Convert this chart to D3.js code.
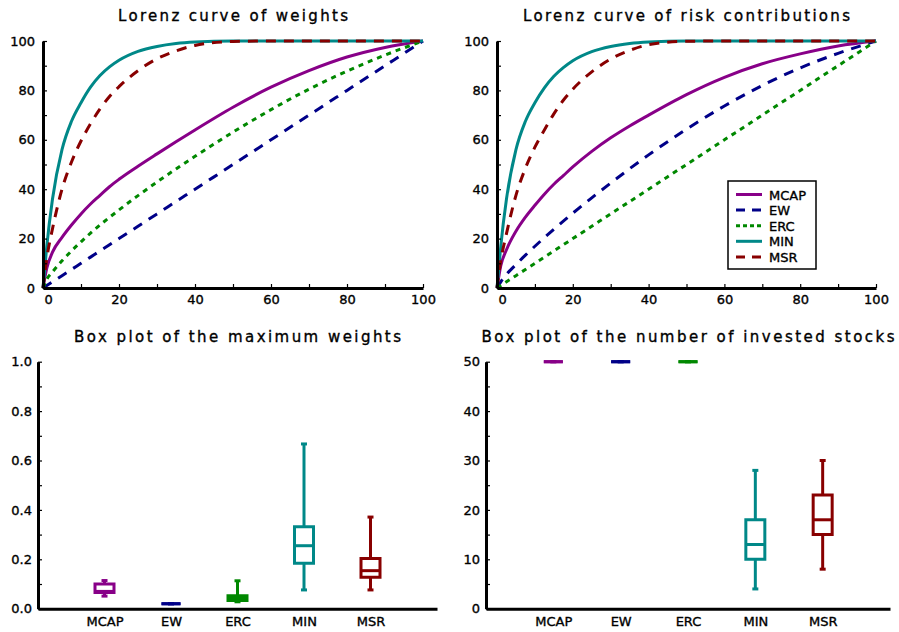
<!DOCTYPE html>
<html>
<head>
<meta charset="utf-8">
<script src="https://cdn.jsdelivr.net/npm/d3@7/dist/d3.min.js"></script>
<style>
    body{margin:0;background:#fff;}
    svg text{font-family:"DejaVu Sans",sans-serif;fill:#000;stroke:#000;stroke-width:0.35px;}
</style>
</head>
<body>
<svg id="chart" width="899" height="632"></svg>
<script>
/*global d3: false */

//====================================
//Data
var seriesNames = ["MCAP", "EW", "ERC", "MIN", "MSR"];

//x grid (% of stocks) shared by every lorenz curve
var lorenzX = [0, 1, 2.5, 5, 7.5, 10, 12.5, 15, 17.5, 20, 25, 30, 35, 40, 50, 60, 70, 80, 90, 100];

//Lorenz curve of weights
var wMCAP = [0, 8, 14.5, 20.5, 25.5, 30, 34, 37.5, 41, 44, 49.3, 54.3, 59.2, 64, 73.2, 81.3, 88, 93.5, 97.4, 100];
var wEW   = [0, 1, 2.5, 5, 7.5, 10, 12.5, 15, 17.5, 20, 25, 30, 35, 40, 50, 60, 70, 80, 90, 100];
var wERC  = [0, 3.5, 6.5, 11, 15, 18.7, 22.2, 25.5, 28.6, 31.6, 37.4, 42.9, 48.2, 53.3, 63.1, 72.2, 80.5, 87.8, 94.3, 100];
var wMIN  = [0, 17, 36, 56, 67.5, 75, 81.3, 86, 89.5, 92.2, 95.8, 97.8, 99, 99.6, 100, 100, 100, 100, 100, 100];
var wMSR  = [0, 12, 24, 40, 51, 59.5, 66.5, 72.5, 77.5, 81.5, 88, 92.8, 96, 98.2, 99.8, 100, 100, 100, 100, 100];

//Lorenz curve of risk contributions
var rcMCAP = [0, 9, 15.5, 23, 28.7, 33.5, 38, 42, 45.5, 49, 55.3, 60.8, 65.6, 70, 78.3, 85.3, 90.8, 94.8, 98, 100];
var rcEW   = [0, 2.5, 5.5, 9.5, 13.3, 16.9, 20.4, 23.8, 27.1, 30.3, 36.5, 42.5, 48.3, 53.9, 64.3, 73.7, 82, 89.1, 95, 100];
var rcERC  = [0, 1, 2.5, 5, 7.5, 10, 12.5, 15, 17.5, 20, 25, 30, 35, 40, 50, 60, 70, 80, 90, 100];
var rcMIN  = [0, 17, 36, 56, 67.5, 75, 81, 85.7, 89.2, 92, 95.7, 97.8, 99, 99.6, 100, 100, 100, 100, 100, 100];
var rcMSR  = [0, 11, 22, 37.5, 48.5, 57, 64, 70.5, 76, 80.5, 87.5, 92.7, 96.2, 98.5, 99.9, 100, 100, 100, 100, 100];

//Box plot of the maximum weights (per series: MCAP, EW, ERC, MIN, MSR)
var mwMin    = [0.051, 0.02, 0.028, 0.076, 0.076];
var mwQ1     = [0.066, 0.02, 0.033, 0.184, 0.127];
var mwMedian = [0.070, 0.02, 0.043, 0.255, 0.154];
var mwQ3     = [0.100, 0.02, 0.052, 0.332, 0.203];
var mwMax    = [0.114, 0.02, 0.113, 0.667, 0.371];

//Box plot of the number of invested stocks
var nsMin    = [50, 50, 50, 4, 8];
var nsQ1     = [50, 50, 50, 10, 15];
var nsMedian = [50, 50, 50, 13, 18];
var nsQ3     = [50, 50, 50, 18, 23];
var nsMax    = [50, 50, 50, 28, 30];

//tick labels
var lorenzTicks = [0, 10, 20, 30, 40, 50, 60, 70, 80, 90, 100];
var weightTicks = [0, 0.1, 0.2, 0.3, 0.4, 0.5, 0.6, 0.7, 0.8, 0.9, 1.0];
var stockTicks  = [0, 5, 10, 15, 20, 25, 30, 35, 40, 45, 50];

(function(){
    "use strict";

    //styles of the five series
    var colors = ["#880088", "#000088", "#008800", "#008888", "#880000"];
    var dashes = [null, "10,8", "5,5", null, "10,8"];
    var legendDashes = [null, "9,7", "4,3", null, "9,7"];

    var svg = d3.select("#chart");

    //====================================
    //common helpers
    function styleAxis(g, size){
        g.selectAll("text")
            .style("font-family", "'DejaVu Sans', sans-serif")
            .style("font-size", size + "px");
        g.select(".domain").attr("stroke-width", 3).attr("stroke", "#000");
        g.selectAll(".tick line").attr("stroke-width", 1.2).attr("stroke", "#000");
    }

    function drawTitle(text, cx, y, width){
        svg.append("text")
            .attr("x", cx)
            .attr("y", y)
            .attr("text-anchor", "middle")
            .attr("textLength", width)
            .attr("lengthAdjust", "spacing")
            .style("font-size", "15px")
            .text(text);
    }

    //====================================
    //Lorenz panel
    function lorenzPanel(x0, x1, title, titleWidth, values, withLegend){
        var x = d3.scaleLinear().domain([0, 100]).range([x0, x1]);
        var y = d3.scaleLinear().domain([0, 100]).range([288, 41]);
        var g = svg.append("g");

        drawTitle(title, (x0 + x1) / 2, 21, titleWidth);

        var line = d3.line()
            .x(function(d){ return x(d[0]); })
            .y(function(d){ return y(d[1]); })
            .curve(d3.curveMonotoneX);

        values.forEach(function(vals, i){
            var pts = lorenzX.map(function(v, k){ return [v, vals[k]]; });
            g.append("path")
                .datum(pts)
                .attr("d", line)
                .attr("fill", "none")
                .attr("stroke", colors[i])
                .attr("stroke-width", 3)
                .attr("stroke-dasharray", dashes[i]);
        });

        //axes, ticks every 10, labels every 20
        var fmt = function(d){ return d % 20 === 0 ? d : ""; };
        var xAxis = g.append("g")
            .attr("transform", "translate(0," + y(0) + ")")
            .call(d3.axisBottom(x).tickValues(lorenzTicks).tickFormat(fmt)
                .tickSizeInner(-4).tickSizeOuter(0).tickPadding(7));
        styleAxis(xAxis, 13);
        //first label sits right of the origin
        xAxis.selectAll(".tick text").filter(function(d){ return d === 0; })
            .attr("text-anchor", "start").attr("dx", 1);

        var yAxis = g.append("g")
            .attr("transform", "translate(" + x(0) + ",0)")
            .call(d3.axisLeft(y).tickValues(lorenzTicks).tickFormat(fmt)
                .tickSizeInner(-4).tickSizeOuter(0).tickPadding(8));
        styleAxis(yAxis, 13);

        if(withLegend){
            var lg = g.append("g").attr("transform", "translate(728,181)");
            lg.append("rect")
                .attr("width", 88)
                .attr("height", 88)
                .attr("fill", "#fff")
                .attr("stroke", "#000")
                .attr("stroke-width", 1.5);
            seriesNames.forEach(function(name, i){
                var ly = 13.5 + i * 15.6;
                lg.append("line")
                    .attr("x1", 8).attr("x2", 34)
                    .attr("y1", ly).attr("y2", ly)
                    .attr("stroke", colors[i])
                    .attr("stroke-width", 3)
                    .attr("stroke-dasharray", legendDashes[i]);
                lg.append("text")
                    .attr("x", 41)
                    .attr("y", ly + 5)
                    .style("font-size", "13px")
                    .text(name);
            });
        }
    }

    //====================================
    //Box plot panel
    function boxPanel(x0, x1, title, titleWidth, yMax, ticks, tickFmt, stats){
        var x = d3.scaleLinear().domain([0, 6]).range([x0, x1]);
        var y = d3.scaleLinear().domain([0, yMax]).range([608.7, 361.7]);
        var g = svg.append("g");
        var hw = 9.5;
        var cap = 3;

        drawTitle(title, (x0 + x1) / 2, 341.5, titleWidth);

        seriesNames.forEach(function(name, i){
            var cx = x(i + 1);
            var c = colors[i];
            var bg = g.append("g")
                .attr("fill", "none")
                .attr("stroke", c)
                .attr("stroke-width", 3);
            //whisker
            bg.append("line")
                .attr("x1", cx).attr("x2", cx)
                .attr("y1", y(stats.min[i])).attr("y2", y(stats.max[i]));
            //caps
            [stats.min[i], stats.max[i]].forEach(function(v){
                bg.append("line")
                    .attr("x1", cx - cap).attr("x2", cx + cap)
                    .attr("y1", y(v)).attr("y2", y(v));
            });
            //box
            bg.append("path")
                .attr("fill", "#fff")
                .attr("d", "M" + (cx - hw) + "," + y(stats.q3[i]) +
                    "H" + (cx + hw) + "V" + y(stats.q1[i]) +
                    "H" + (cx - hw) + "Z");
            //median
            bg.append("line")
                .attr("x1", cx - hw).attr("x2", cx + hw)
                .attr("y1", y(stats.median[i])).attr("y2", y(stats.median[i]));
        });

        var xAxis = g.append("g")
            .attr("transform", "translate(0," + y(0) + ")")
            .call(d3.axisBottom(x).tickValues([1, 2, 3, 4, 5])
                .tickFormat(function(d){ return seriesNames[d - 1]; })
                .tickSize(0).tickPadding(8));
        styleAxis(xAxis, 13);

        var yAxis = g.append("g")
            .attr("transform", "translate(" + x(0) + ",0)")
            .call(d3.axisLeft(y).tickValues(ticks).tickFormat(tickFmt)
                .tickSizeInner(-4).tickSizeOuter(0).tickPadding(6));
        styleAxis(yAxis, 13);
    }

    //====================================
    //build the four panels
    lorenzPanel(43, 423, "Lorenz curve of weights", 230,
        [wMCAP, wEW, wERC, wMIN, wMSR], false);
    lorenzPanel(497, 876, "Lorenz curve of risk contributions", 327,
        [rcMCAP, rcEW, rcERC, rcMIN, rcMSR], true);

    boxPanel(38, 437, "Box plot of the maximum weights", 327, 1, weightTicks,
        function(d){
            var k = Math.round(d * 10);
            return k % 2 === 0 ? d3.format(".1f")(d) : "";
        },
        {min: mwMin, q1: mwQ1, median: mwMedian, q3: mwQ3, max: mwMax});
    boxPanel(486, 890, "Box plot of the number of invested stocks", 413, 50, stockTicks,
        function(d){ return d % 10 === 0 ? d : ""; },
        {min: nsMin, q1: nsQ1, median: nsMedian, q3: nsQ3, max: nsMax});
})();
</script>
</body>
</html>
